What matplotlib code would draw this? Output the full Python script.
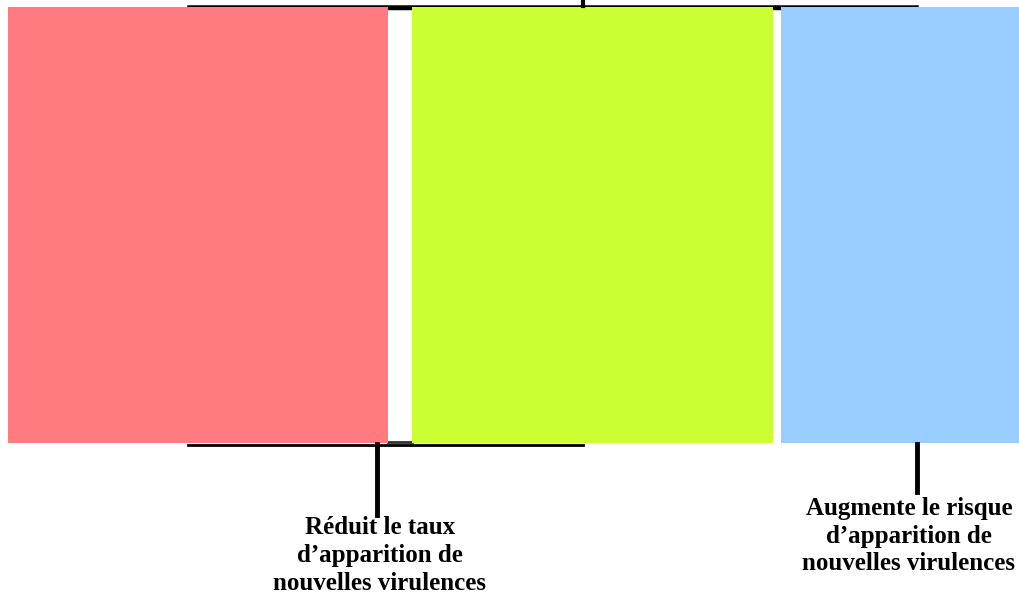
import matplotlib.pyplot as plt

# segments of the diagram (x extent in pixels of the original figure)
segment_names = ['reduit', 'neutre', 'augmente']
segment_left = [8, 412, 781]
segment_right = [388, 773, 1019]
segment_colors = ['#FF7B7F', '#CCFF33', '#99CCFF']

labels = ['Réduit le taux\nd\u2019apparition de\nnouvelles virulences',
          'Augmente le risque\nd\u2019apparition de\nnouvelles virulences']

W, H = 1019, 599
fig = plt.figure(figsize=(W / 100, H / 100), dpi=100)
ax = fig.add_axes([0, 0, 1, 1])
ax.set_xlim(0, W)
ax.set_ylim(H, 0)
ax.axis('off')

widths = [r - l for l, r in zip(segment_left, segment_right)]
ax.bar(segment_left, 436, width=widths, bottom=7, align='edge',
       color=segment_colors, linewidth=0, zorder=2)

# bracket on top
ax.plot([188, 917], [5.5, 5.5], color='black', lw=1.8, zorder=1)
ax.plot([388, 412], [7.5, 7.5], color='black', lw=2.5, zorder=1)
ax.plot([773, 781], [7.5, 7.5], color='black', lw=2.5, zorder=1)
ax.plot([583, 583], [0, 6], color='black', lw=3, zorder=3)

# bracket at the bottom
ax.plot([188, 583], [444.5, 444.5], color='black', lw=2, zorder=1)
ax.plot([388, 412], [442, 442], color='#333333', lw=2, zorder=1)
ax.plot([377, 377], [444, 515], color='black', lw=3.5, zorder=3)
ax.plot([917, 917], [444, 492], color='black', lw=3.5, zorder=3)

font = dict(family='Liberation Serif', weight='bold', fontsize=18,
            ha='center', va='baseline')
for x, y0, text in [(380, 534, labels[0]), (909, 514.5, labels[1])]:
    for i, line in enumerate(text.split('\n')):
        ax.text(x, y0 + 28 * i, line, **font)

fig.savefig('out.png', dpi=100)
